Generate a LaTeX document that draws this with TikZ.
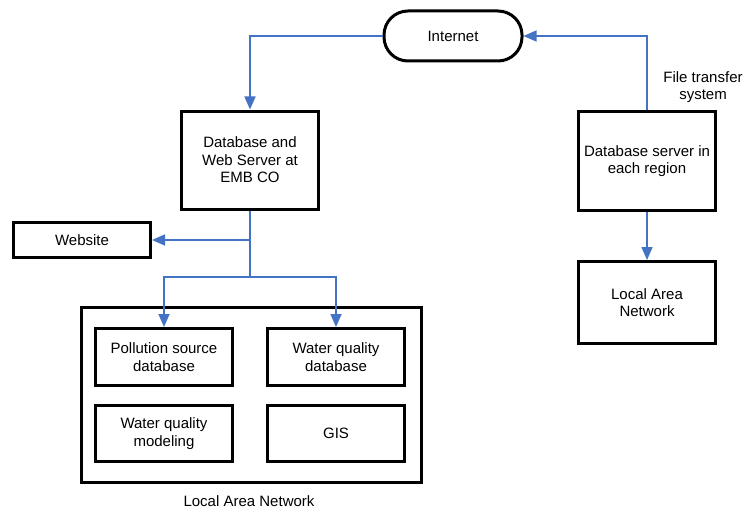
\documentclass[tikz,border=0pt]{standalone}
\usepackage{fontspec}
\setmainfont{Liberation Sans}
\usetikzlibrary{arrows.meta}
\definecolor{linkblue}{RGB}{68,114,196}
\begin{document}
\begin{tikzpicture}[x=1pt,y=-1pt,
  font=\fontsize{15}{17.5}\selectfont,
  box/.style={draw=black, line width=3pt, align=center, inner sep=0pt},
  pill/.style={box, rounded corners=24pt},
  link/.style={draw=linkblue, line width=1.6pt},
  arr/.style={link, -{Triangle[length=13pt,width=11pt]}}]
\useasboundingbox (0,0) rectangle (743,508);

% top level
\node[pill, minimum width=138pt, minimum height=50pt] (inet) at (453,36) {Internet};
\node[box, minimum width=137pt, minimum height=98pt] (db) at (250,160) {Database and\\Web Server at\\EMB CO};
\node[box, minimum width=137pt, minimum height=35pt] (web) at (82,240) {Website};

% regional side
\node[box, minimum width=137pt, minimum height=99pt] (dbs) at (647,161) {Database server in\\each region};
\node[box, minimum width=137pt, minimum height=82pt] (lanr) at (647,302.5) {Local Area\\Network};
\node[align=center] (fts) at (703,87) {File transfer\\system};

% local area network at EMB CO
\node[box, minimum width=340pt, minimum height=175pt] (lan) at (251.5,395) {};
\node (lanlbl) at (249,501) {Local Area Network};
\node[box, minimum width=137pt, minimum height=57pt] (pol) at (164,357) {Pollution source\\database};
\node[box, minimum width=137pt, minimum height=57pt] (wqd) at (336,357) {Water quality\\database};
\node[box, minimum width=137pt, minimum height=56pt] (wqm) at (164,433.5) {Water quality\\modeling};
\node[box, minimum width=137pt, minimum height=56pt] (gis) at (336,433.5) {GIS};

% connectors
\coordinate (j1) at (250,240);
\coordinate (j2) at (250,277);
\draw[arr] (inet.west) -| (db.north);
\draw[arr] (dbs.north) |- (inet.east);
\draw[arr] (dbs.south) -- (lanr.north);
\draw[link] (db.south) -- (j2);
\draw[arr] (j1) -- (web.east);
\draw[arr] (j2) -| (pol.north);
\draw[arr] (j2) -| (wqd.north);
\end{tikzpicture}
\end{document}
